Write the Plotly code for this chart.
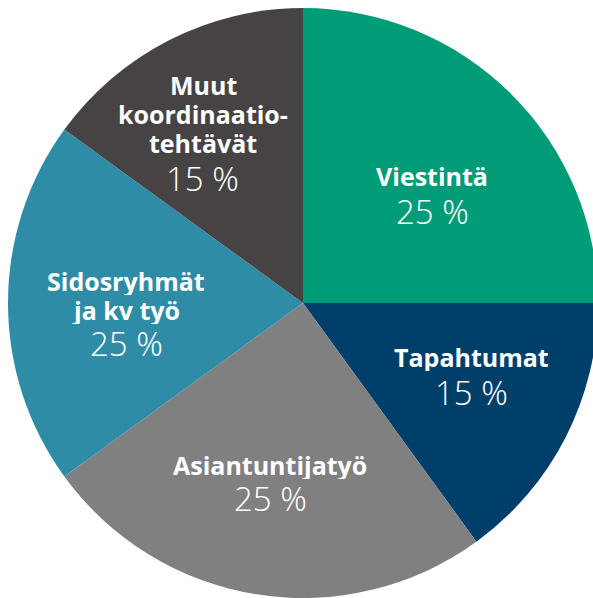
import plotly.graph_objects as go

# Data
categories = ["Viestintä", "Tapahtumat", "Asiantuntijatyö", "Sidosryhmät<br>ja kv työ",
              "Muut<br>koordinaatio-<br>tehtävät"]
shares = [25, 15, 25, 20, 15]          # slice sizes as drawn
pct_labels = ["25 %", "15 %", "25 %", "25 %", "15 %"]  # percentages as printed
colors = ["#009B77", "#003F6A", "#808080", "#2E8CA6", "#474344"]

# Label positions (pixel centres in the 593x598 picture)
name_pos = [(432, 176), (471, 357), (270, 465), (126, 295), (203, 114)]
pct_pos = [(432, 211), (471, 392), (270, 498.5), (126, 343), (202, 178.5)]
LINE_GAP = 29

W, H = 598, 598
ML, MT = 8, 8
PW, PH = W - ML, H - MT


def to_paper(px, py):
    return (px - ML) / PW, (H - py) / PH


fig = go.Figure(go.Pie(
    values=shares,
    labels=[c.replace("<br>", " ") for c in categories],
    textinfo="none",
    sort=False,
    direction="clockwise",
    rotation=0,
    marker=dict(colors=colors, line=dict(width=0)),
    hoverinfo="skip",
    showlegend=False,
))

for name, pct, npos, ppos in zip(categories, pct_labels, name_pos, pct_pos):
    lines = name.split("<br>")
    n = len(lines)
    for i, line in enumerate(lines):
        x, y = to_paper(npos[0], npos[1] + (i - (n - 1) / 2) * LINE_GAP)
        fig.add_annotation(x=x, y=y, xref="paper", yref="paper", text=line,
                           showarrow=False, xanchor="center", yanchor="middle",
                           height=LINE_GAP - 1, borderpad=0,
                           font=dict(family="Open Sans", size=25, color="white", weight="bold"))
    x, y = to_paper(*ppos)
    fig.add_annotation(x=x, y=y, xref="paper", yref="paper", text=pct,
                       showarrow=False, xanchor="center", yanchor="middle",
                       font=dict(family="Open Sans Light, Open Sans", size=33, color="white", weight=300))

fig.update_layout(
    width=W, height=H,
    margin=dict(l=ML, r=0, t=MT, b=0),
    paper_bgcolor="white",
    showlegend=False,
)

fig.write_html("out.html",
               post_script="document.documentElement.style.overflow='hidden';document.body.style.overflow='hidden';document.body.style.margin='0';")
